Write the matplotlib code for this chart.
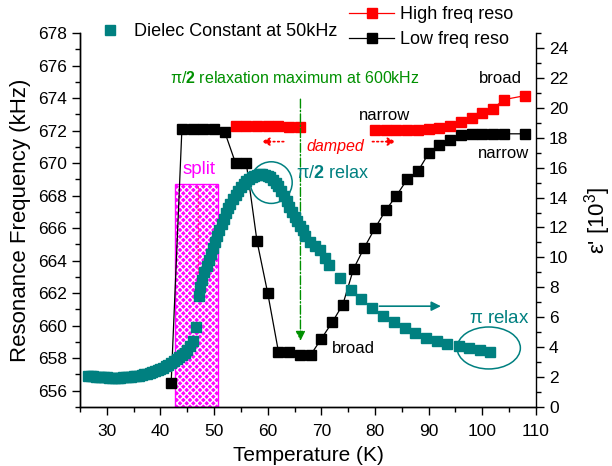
import numpy as np
import matplotlib
matplotlib.use("Agg")
import matplotlib.pyplot as plt
from matplotlib.patches import Rectangle, Ellipse
from matplotlib.ticker import MultipleLocator

plt.rcParams['font.family'] = ['Liberation Sans', 'DejaVu Sans']
plt.rcParams['mathtext.fontset'] = 'custom'
plt.rcParams['mathtext.rm'] = 'Liberation Sans'
plt.rcParams['mathtext.it'] = 'Liberation Sans:italic'
plt.rcParams['mathtext.bf'] = 'Liberation Sans:bold'
plt.rcParams['hatch.linewidth'] = 1.0

# low frequency resonance (kHz)
low_T = [42, 44, 46, 48, 50, 52, 54, 56, 58, 60, 62, 64, 66, 68, 70, 72, 74, 76, 78,
         80, 82, 84, 86, 88, 90, 92, 94, 96, 98, 100, 102, 104, 108]
low_f = [656.5, 672.1, 672.1, 672.1, 672.1, 671.9, 670.0, 670.0, 665.2, 662.0, 658.4,
         658.4, 658.2, 658.2, 659.2, 660.2, 661.3, 663.5, 664.8,
         666.0, 667.1, 668.0, 669.0, 669.5, 670.6, 671.1, 671.4, 671.7, 671.8, 671.8,
         671.8, 671.8, 671.8]

# high frequency resonance (kHz), two branches
high_T1 = [54, 56, 58, 60, 62, 64, 66]
high_f1 = [672.25, 672.25, 672.25, 672.25, 672.25, 672.2, 672.2]
high_T2 = [80, 82, 84, 86, 88, 90, 92, 94, 96, 98, 100, 102, 104, 108]
high_f2 = [672.05, 672.05, 672.05, 672.05, 672.05, 672.1, 672.15, 672.3, 672.5,
           672.8, 673.1, 673.35, 673.9, 674.15]

# dielectric constant at 50 kHz (10^3)
eps_T = [26.5, 27, 27.5, 28, 28.5, 29, 29.5, 30, 30.5, 31, 31.5, 32, 32.5, 33, 33.5,
         34, 34.5, 35, 35.5, 36, 36.5, 37, 37.5, 38, 38.5, 39, 39.5, 40, 40.5, 41,
         41.5, 42, 42.5, 43, 43.5, 44, 44.5, 45, 45.5, 46, 46.6, 47.1,
         47.4, 47.8, 48.2, 48.6, 49.0, 49.4, 49.8, 50.2, 50.6, 51.0, 51.4, 51.8, 52.2,
         52.6, 53.0, 53.5, 54.0, 54.5, 55.0, 55.5, 56.0, 56.5, 57.0, 57.5, 58.0, 58.5,
         59.0, 59.5, 60.0, 60.5, 61.0, 61.5, 62.0, 62.5, 63.0, 63.5, 64.0, 64.5, 65.0,
         65.5, 66.0, 66.5, 67.0, 67.9, 68.8, 69.7, 70.7, 71.4, 73.5, 75.5, 77.4, 79.4,
         81.4, 83.6, 85.5, 87.5, 89.5, 91.5, 93.5, 95.6, 97.6, 99.5, 101.5]
eps_v = [2.05, 2.05, 2.04, 2.03, 2.02, 2.0, 1.99, 1.98, 1.97, 1.97, 1.97, 1.97, 1.97,
         1.98, 1.99, 2.0, 2.02, 2.04, 2.07, 2.1, 2.14, 2.18, 2.23, 2.28, 2.34, 2.4,
         2.47, 2.55, 2.63, 2.72, 2.82, 2.93, 3.05, 3.18, 3.32, 3.47, 3.64, 3.83, 4.05,
         4.4, 5.35, 7.4,
         8.0, 8.5, 9.0, 9.45, 9.85, 10.25, 10.6, 11.0, 11.4, 11.8, 12.2, 12.55, 12.95,
         13.3, 13.6, 13.9, 14.2, 14.45, 14.7, 14.9, 15.1, 15.25, 15.35, 15.45, 15.5,
         15.55, 15.55, 15.5, 15.45, 15.35, 15.2, 15.0, 14.75, 14.45, 14.1, 13.75, 13.4,
         13.05, 12.7, 12.4, 12.1, 11.8, 11.45, 11.05, 10.75, 10.5, 9.96, 9.5, 8.6, 7.85,
         7.2, 6.6, 6.1, 5.66, 5.28, 4.95, 4.6, 4.4, 4.2, 4.06, 3.94, 3.83, 3.67]

teal = '#008080'
green = '#009000'

fig = plt.figure(figsize=(6.12, 4.66), dpi=100)
ax = fig.add_axes([0.1307, 0.1266, 0.745, 0.8026])
ax2 = ax.twinx()

ax.set_xlim(25, 110)
ax.set_ylim(655, 678)
ax2.set_ylim(0, 25)

# split region
ax.add_patch(Rectangle((42.8, 655), 7.9, 13.7, facecolor='#FF00FF', edgecolor='white',
                       hatch='xxxxx', linewidth=0, zorder=1))
ax.add_patch(Rectangle((42.8, 655), 7.9, 13.7, facecolor='none', edgecolor='#FF00FF',
                       linewidth=1, zorder=1))

ax.plot(low_T, low_f, '-s', color='black', lw=0.9, ms=6.7, label='Low freq reso', zorder=3)
ax.plot(high_T1, high_f1, '-s', color='red', lw=0.9, ms=6.7, label='High freq reso', zorder=3)
ax.plot(high_T2, high_f2, '-s', color='red', lw=0.9, ms=6.7, zorder=3)
ax2.plot(eps_T, eps_v, 's', color=teal, ms=6.8, label='Dielec Constant at 50kHz')

for a in (ax, ax2):
    a.spines['top'].set_visible(False)
    for s in a.spines.values():
        s.set_linewidth(1.0)
    a.tick_params(which='major', direction='out', length=6, width=1, labelsize=12.5)
    a.tick_params(which='minor', direction='out', length=3.5, width=1)
ax.tick_params(axis='x', which='major', pad=6.5)
ax.spines['right'].set_visible(False)
ax.xaxis.set_major_locator(MultipleLocator(10))
ax.xaxis.set_minor_locator(MultipleLocator(5))
ax.yaxis.set_major_locator(MultipleLocator(2))
ax.yaxis.set_minor_locator(MultipleLocator(1))
ax2.yaxis.set_major_locator(MultipleLocator(2))
ax2.yaxis.set_minor_locator(MultipleLocator(1))
ax.set_xticks(range(30, 111, 10))

ax.set_xlabel('Temperature (K)', fontsize=15, labelpad=5)
ax.set_ylabel('Resonance Frequency (kHz)', fontsize=16, labelpad=5)
ax2.set_ylabel("ε' [10$^{3}$]", fontsize=16, labelpad=10)

# annotations
ax.text(65.0, 675.25, r'$\mathrm{\pi}$/$\mathbf{2}$ relaxation maximum at 600kHz',
        color=green, fontsize=11.5, ha='center', va='center')
ax.annotate('', xy=(66.1, 658.9), xytext=(66.1, 674.1),
            arrowprops=dict(arrowstyle='-|>', linestyle='-.', color=green, lw=1,
                            mutation_scale=14))
ax.annotate('', xy=(47.05, 661.4), xytext=(47.05, 668.7),
            arrowprops=dict(arrowstyle='-|>', linestyle=':', color='#FF1493', lw=1,
                            mutation_scale=14))
ax.annotate('', xy=(58.3, 671.32), xytext=(63.5, 671.32),
            arrowprops=dict(arrowstyle='-|>', linestyle=':', color='red', lw=1.2,
                            mutation_scale=12))
ax.annotate('', xy=(84.4, 671.32), xytext=(79.0, 671.32),
            arrowprops=dict(arrowstyle='-|>', linestyle=':', color='red', lw=1.2,
                            mutation_scale=12))
ax.annotate('', xy=(92.8, 661.2), xytext=(80.3, 661.2),
            arrowprops=dict(arrowstyle='-|>', color=teal, lw=1.2, mutation_scale=14))

ax.text(67.2, 671.0, 'damped', color='red', style='italic', fontsize=11.5, va='center')
ax.text(44.1, 669.6, 'split', color='#FF00FF', fontsize=13.5, va='center')
ax.text(65.3, 669.33, r'$\mathrm{\pi}$/$\mathbf{2}$ relax', color=teal, fontsize=13,
        va='center')
ax.text(97.5, 660.47, r'$\mathrm{\pi}$ relax', color=teal, fontsize=13.5, va='center')
ax.text(107.4, 675.2, 'broad', fontsize=12, ha='right', va='center')
ax.text(81.8, 672.9, 'narrow', fontsize=12, ha='center', va='center')
ax.text(108.7, 670.56, 'narrow', fontsize=12, ha='right', va='center')
ax.text(71.9, 658.57, 'broad', fontsize=12, va='center')

ax.add_patch(Ellipse((60.66, 668.8), 7.8, 2.56, fill=False, edgecolor=teal, lw=1.1,
                     zorder=4))
ax.add_patch(Ellipse((101.2, 658.63), 11.8, 2.58, fill=False, edgecolor=teal, lw=1.1,
                     zorder=4))

leg1 = ax2.legend(loc='center left', bbox_to_anchor=(101 / 612, 1 - 32 / 466),
                  bbox_transform=fig.transFigure, frameon=False, fontsize=13,
                  handlelength=1, handletextpad=0.8, borderpad=0, borderaxespad=0)
h, l = ax.get_legend_handles_labels()
ax2.add_artist(leg1)
ax2.legend(h[::-1], l[::-1], loc='upper left', bbox_to_anchor=(349 / 612, 1 - 6 / 466),
           bbox_transform=fig.transFigure, frameon=False, fontsize=13,
           handlelength=2.5, handletextpad=0.35, borderpad=0, borderaxespad=0,
           labelspacing=0.45)

fig.savefig('out.png', dpi=100)
